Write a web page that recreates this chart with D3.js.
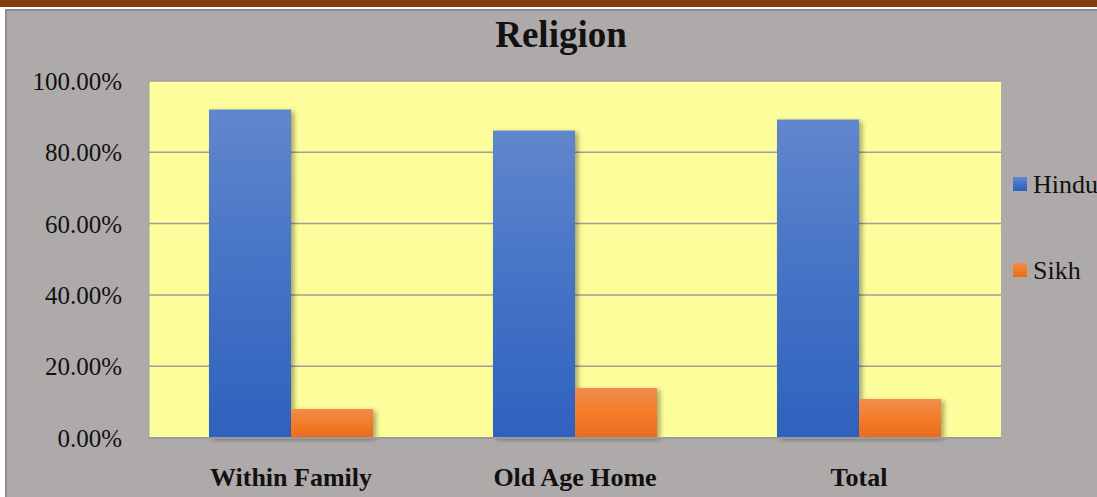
<!DOCTYPE html>
<html>
<head>
<meta charset="utf-8">
<script src="https://cdn.jsdelivr.net/npm/d3@7"></script>
<style>
  html, body { margin: 0; padding: 0; background: #fff; }
  svg { display: block; font-family: "Liberation Serif", "Times New Roman", serif; }
</style>
</head>
<body>
<svg id="chart" width="1097" height="497"></svg>
<script>
var categories = ["Within Family", "Old Age Home", "Total"];
var series = ["Hindu", "Sikh"];
var hinduValues = [92.0, 86.1, 89.2];
var sikhValues = [8.0, 13.9, 10.8];
var yTicks = [0, 20, 40, 60, 80, 100];

var values = [hinduValues, sikhValues];
var gradIds = ["gradHindu", "gradSikh"];

var svg = d3.select("#chart");
var W = 1097, H = 497;
var plot = { left: 149, right: 1001, top: 81, bottom: 437.5 };

// page frame
svg.append("rect").attr("x", 0).attr("y", 0).attr("width", W).attr("height", 7).attr("fill", "#843c0c");
svg.append("rect").attr("x", 6).attr("y", 10).attr("width", W + 10).attr("height", H)
  .attr("fill", "#aeaaaa").attr("stroke", "#8e8b8b").attr("stroke-width", 2);

var defs = svg.append("defs");
function gradient(id, stops) {
  var g = defs.append("linearGradient").attr("id", id)
    .attr("x1", 0).attr("y1", 0).attr("x2", 0).attr("y2", 1);
  stops.forEach(s => g.append("stop").attr("offset", s[0]).attr("stop-color", s[1]));
}
gradient("gradHindu", [[0, "#6286cc"], [0.5, "#4473c6"], [1, "#2f61bd"]]);
gradient("gradSikh", [[0, "#f28c4f"], [0.5, "#f47c28"], [1, "#e96b1e"]]);

var shadow = defs.append("filter").attr("id", "shadow")
  .attr("x", "-20%").attr("y", "-20%").attr("width", "150%").attr("height", "150%");
shadow.append("feDropShadow").attr("dx", 3).attr("dy", 2).attr("stdDeviation", 2.5)
  .attr("flood-color", "#000").attr("flood-opacity", 0.35);

// plot area
svg.append("rect").attr("x", plot.left).attr("y", plot.top)
  .attr("width", plot.right - plot.left).attr("height", plot.bottom - plot.top)
  .attr("fill", "#fdfd9b");

var y = d3.scaleLinear().domain([0, 100]).range([plot.bottom, plot.top]);
var x0 = d3.scaleBand().domain(categories).range([plot.left, plot.right])
  .paddingInner(0.4225).paddingOuter(0.21125);
var x1 = d3.scaleBand().domain(series).range([0, x0.bandwidth()]);

// gridlines
svg.append("g").selectAll("line").data(yTicks.filter(d => d > 0)).join("line")
  .attr("x1", plot.left).attr("x2", plot.right)
  .attr("y1", d => y(d)).attr("y2", d => y(d))
  .attr("stroke", "#9e9e9e").attr("stroke-width", 1.5);

// left plot border
svg.append("line").attr("x1", plot.left).attr("x2", plot.left)
  .attr("y1", plot.top).attr("y2", plot.bottom)
  .attr("stroke", "#a3a3a3").attr("stroke-width", 1);

// bars
var groups = svg.append("g").selectAll("g").data(categories).join("g")
  .attr("transform", d => "translate(" + x0(d) + ",0)");
groups.selectAll("rect")
  .data((d, i) => series.map((s, j) => ({ s: s, v: values[j][i], j: j })))
  .join("rect")
  .attr("x", d => x1(d.s))
  .attr("width", x1.bandwidth())
  .attr("y", d => y(d.v))
  .attr("height", d => y(0) - y(d.v))
  .attr("fill", d => "url(#" + gradIds[d.j] + ")")
  .attr("filter", "url(#shadow)");

// x axis line
svg.append("line").attr("x1", plot.left).attr("x2", plot.right)
  .attr("y1", plot.bottom + 0.5).attr("y2", plot.bottom + 0.5)
  .attr("stroke", "#9a9a9a").attr("stroke-width", 2);

// y labels
svg.append("g").selectAll("text").data(yTicks).join("text")
  .attr("x", 122).attr("y", d => y(d) + 9)
  .attr("text-anchor", "end").attr("font-size", 25).attr("fill", "#111")
  .text(d => d3.format(".2f")(d) + "%");

// category labels
svg.append("g").selectAll("text").data(categories).join("text")
  .attr("x", d => x0(d) + x0.bandwidth() / 2).attr("y", 486)
  .attr("text-anchor", "middle").attr("font-size", 26).attr("font-weight", "bold").attr("fill", "#111")
  .text(d => d);

// title
svg.append("text").attr("x", 561).attr("y", 47)
  .attr("text-anchor", "middle").attr("font-size", 37).attr("font-weight", "bold").attr("fill", "#111")
  .text("Religion");

// legend
var legendY = [177, 263];
var legend = svg.append("g").selectAll("g").data(series).join("g")
  .attr("transform", (d, i) => "translate(1013," + legendY[i] + ")");
legend.append("rect").attr("width", 14).attr("height", 14)
  .attr("fill", (d, i) => "url(#" + gradIds[i] + ")");
legend.append("text").attr("x", 20).attr("y", 16)
  .attr("font-size", 26).attr("fill", "#111").text(d => d);
</script>
</body>
</html>
